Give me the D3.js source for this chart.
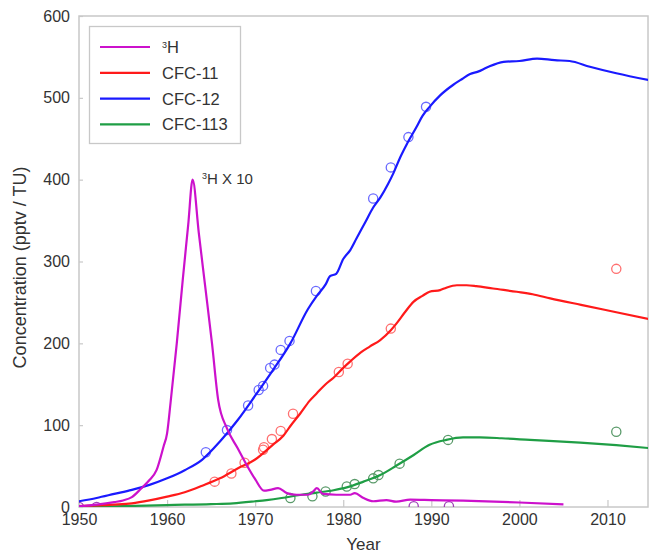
<!DOCTYPE html>
<html><head><meta charset="utf-8">
<script src="https://cdn.jsdelivr.net/npm/d3@7"></script>
<style>
body{margin:0;background:#fff;}
svg{display:block;font-family:"Liberation Sans",Arial,Helvetica,sans-serif;}
</style></head>
<body><svg id="chart" width="650" height="553"></svg>
<script>
// ---- data ----
const xTicks = [1950, 1960, 1970, 1980, 1990, 2000, 2010];
const yTicks = [0, 100, 200, 300, 400, 500, 600];
const seriesNames = ["³H", "CFC-11", "CFC-12", "CFC-113"];

// tritium (x10), TU
const tritiumLine = [[1950,1],[1952,3],[1954,6],[1955,8],[1956,12],[1957,22],[1958,33],[1958.8,45],[1959.6,74],[1960,90],[1960.4,128],[1961.1,200],[1961.8,280],[1962.4,345],[1962.9,400],[1963.6,335],[1964.3,272],[1965.1,200],[1965.8,131],[1966.8,96],[1968,72],[1969,52],[1970,34],[1971,20],[1971.7,21],[1972.6,23],[1973.6,17],[1974.7,15],[1976,15],[1976.6,19],[1977,23],[1977.7,16],[1979.2,15],[1980.8,15],[1981.3,17],[1982.3,11],[1983.4,7],[1984.9,8.5],[1986,6.5],[1987.6,9],[1990,8.5],[1993.6,7.7],[2000,5.5],[2005,3.3]];
const cfc11Line = [[1950,1],[1952,2],[1954,3],[1956,4.5],[1958,8],[1960,12.6],[1962,18],[1964,26],[1966,35],[1968,47],[1970,58],[1972,76],[1973.2,87],[1974,99],[1975.1,114],[1976.2,130],[1977,139],[1978,150],[1978.9,158],[1980,170],[1980.8,178],[1982,189],[1983,196],[1984.2,204],[1985.4,216],[1986.1,225],[1987,238],[1988,251],[1989,258],[1989.8,263],[1991,265],[1991.7,268],[1992.9,271],[1994,271],[1995.1,270],[1997,267],[1999.7,263],[2001.5,260],[2003.5,255],[2007,247],[2011,238],[2015,229]];
const cfc12Line = [[1950,7],[1952,11],[1954,16],[1956,21],[1958,27],[1960,35],[1962,45],[1964,58],[1966,80],[1968,106],[1970,136],[1972,167],[1974,200],[1976,242],[1977,258],[1978,272],[1978.5,282],[1979.2,285],[1980,303],[1980.8,314],[1981.5,328],[1982.5,348],[1983.4,366],[1984.2,378],[1985.1,395],[1985.7,408],[1986.5,428],[1987.2,443],[1988.3,464],[1989,478],[1989.8,489],[1991,503],[1992.5,516],[1993.5,523],[1994.4,529],[1995.3,532],[1996.3,537],[1998.2,544],[2000,545],[2002,548],[2004,546],[2005.7,545],[2008,538],[2011,530],[2015,521]];
const cfc113Line = [[1950,0],[1955,1],[1960,2.4],[1965,3.5],[1967.5,4.5],[1970,7],[1971.3,8.5],[1973,11],[1975.1,14.7],[1977,17.5],[1978.9,20.5],[1980.4,24],[1982.3,31],[1984.2,39],[1986.1,51],[1988,63.6],[1989.8,76],[1991.7,82],[1993.6,85],[1995.5,85],[1998,84],[2001.2,82],[2006.9,78.6],[2011,75.5],[2015,71.7]];

const tritiumPoints = [[1950,0],[1952,0],[1988,1],[1992,1]];
const cfc11Points = [[1965.4,31],[1967.3,41],[1968.8,54],[1970.9,70],[1971,73],[1971.9,83],[1972.9,93],[1974.3,114],[1979.5,165],[1980.5,175],[1985.4,218],[2011,291]];
const cfc12Points = [[1964.4,67],[1966.8,94],[1969.2,124],[1970.4,143],[1970.9,148],[1971.7,170],[1972.2,174],[1972.9,192],[1973.9,203],[1976.9,264],[1983.4,377],[1985.4,415],[1987.4,452],[1989.4,489]];
const cfc113Points = [[1974,11],[1976.5,13],[1978,19],[1980.4,25],[1981.3,28],[1983.4,35],[1984,39],[1986.4,53],[1991.9,82],[2011,92]];

// ---- layout ----
const svg = d3.select("#chart");
const L = 79, R = 648, T = 16, B = 507;
const x = d3.scaleLinear().domain([1950, 2014.6]).range([L, R]);
const y = d3.scaleLinear().domain([0, 600]).range([B, T]);
const frame = "#c8c8c8", txt = "#333";

svg.append("defs").append("clipPath").attr("id","clip")
  .append("rect").attr("x",L).attr("y",T).attr("width",R-L).attr("height",B-T);

// frame
svg.append("rect").attr("x",L).attr("y",T).attr("width",R-L).attr("height",B-T)
  .attr("fill","none").attr("stroke",frame).attr("stroke-width",1.5);

// axes
const xAxis = svg.append("g").attr("transform",`translate(0,${B})`)
  .call(d3.axisBottom(x).tickValues(xTicks).tickFormat(d3.format("d")).tickSize(-7).tickPadding(7));
const yAxis = svg.append("g").attr("transform",`translate(${L},0)`)
  .call(d3.axisLeft(y).tickValues(yTicks).tickSize(-4).tickPadding(9));
[xAxis, yAxis].forEach(g => {
  g.select(".domain").remove();
  g.selectAll(".tick line").attr("stroke", frame).attr("stroke-width",1.2);
  g.selectAll(".tick text").attr("fill", txt).style("font-size","16px").style("font-family","Liberation Sans, Arial, sans-serif");
});

// axis titles
svg.append("text").attr("x",(L+R)/2).attr("y",550).attr("text-anchor","middle")
  .attr("fill",txt).style("font-size","17px").text("Year");
svg.append("text").attr("transform",`translate(26,${(T+B)/2 + 6}) rotate(-90)`).attr("text-anchor","middle")
  .attr("fill",txt).style("font-size","18px").text("Concentration (pptv / TU)");

const series = [
  {name: seriesNames[0], line: tritiumLine, pts: tritiumPoints, color:"#cc11cc", pcol:"#a040b8"},
  {name: seriesNames[1], line: cfc11Line, pts: cfc11Points, color:"#ff1a1a", pcol:"#ff7070"},
  {name: seriesNames[2], line: cfc12Line, pts: cfc12Points, color:"#1a1aff", pcol:"#6a6aff"},
  {name: seriesNames[3], line: cfc113Line, pts: cfc113Points, color:"#1f9e45", pcol:"#5a9a6a"}
];

const plot = svg.append("g").attr("clip-path","url(#clip)");
const line = d3.line().x(d=>x(d[0])).y(d=>y(d[1])).curve(d3.curveMonotoneX);

// points first, then lines
series.forEach(s => {
  plot.selectAll(null).data(s.pts).enter().append("circle")
    .attr("cx",d=>x(d[0])).attr("cy",d=>y(d[1])).attr("r",4.6)
    .attr("fill","none").attr("stroke",s.pcol).attr("stroke-width",1.3);
});
[3,1,2,0].forEach(i => {
  const s = series[i];
  plot.append("path").datum(s.line).attr("d",line)
    .attr("fill","none").attr("stroke",s.color).attr("stroke-width",2.2)
    .attr("stroke-linejoin","round");
});

// annotation
const ann = svg.append("text").attr("x",202).attr("y",184).attr("fill",txt).style("font-size","15px");
ann.append("tspan").attr("dy",-5).style("font-size","9px").text("3");
ann.append("tspan").attr("dy",5).text("H X 10");

// legend
const lg = svg.append("g");
lg.append("rect").attr("x",89.5).attr("y",26.5).attr("width",151).attr("height",117)
  .attr("fill","#fff").attr("stroke",frame).attr("stroke-width",1.3);
series.forEach((s,i) => {
  const yy = 47 + i*25.8;
  lg.append("line").attr("x1",100).attr("x2",150).attr("y1",yy).attr("y2",yy)
    .attr("stroke",s.color).attr("stroke-width",2.2);
  const t = lg.append("text").attr("x",162).attr("y",yy+6).attr("fill",txt).style("font-size","16.5px");
  if (i === 0) {
    t.append("tspan").attr("dy",-5).style("font-size","9px").text("3");
    t.append("tspan").attr("dy",5).text("H");
  } else {
    t.text(s.name);
  }
});
</script></body></html>
